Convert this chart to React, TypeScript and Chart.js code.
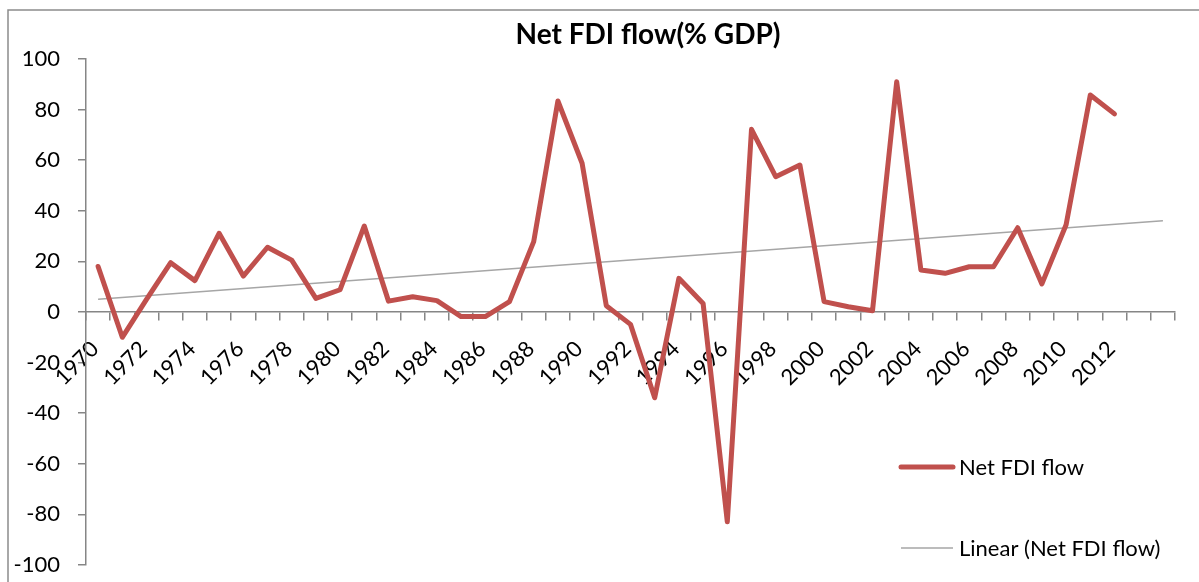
import React, { useEffect, useRef } from 'react';
import { Chart, registerables } from 'chart.js';

Chart.register(...registerables);

// ---- data ----
const years: string[] = [
  '1970', '1971', '1972', '1973', '1974', '1975', '1976', '1977', '1978', '1979',
  '1980', '1981', '1982', '1983', '1984', '1985', '1986', '1987', '1988', '1989',
  '1990', '1991', '1992', '1993', '1994', '1995', '1996', '1997', '1998', '1999',
  '2000', '2001', '2002', '2003', '2004', '2005', '2006', '2007', '2008', '2009',
  '2010', '2011', '2012',
];
// two forward periods of the trendline forecast (unlabelled categories)
const forecastSlots: string[] = ['', ''];

const netFdi: number[] = [
  18, -10, 5, 19.5, 12.4, 31.1, 14.2, 25.6, 20.5, 5.4,
  8.8, 34, 4.3, 6.0, 4.5, -1.8, -1.8, 4.1, 27.8, 83.4,
  58.8, 2.5, -4.9, -33.9, 13.3, 3.4, -82.9, 72.2, 53.5, 58.1,
  4.1, 2.1, 0.5, 91.0, 16.6, 15.3, 17.9, 17.9, 33.3, 11.1,
  34.5, 85.8, 78.3,
];

// Linear trendline end values (first and last category)
const trendEnds: number[] = [5.0, 36.1];

const yTicks = { min: -100, max: 100, step: 20 };

const titleText = 'Net FDI flow(% GDP)';
const seriesLabel = 'Net FDI flow';
const trendLabel = 'Linear (Net FDI flow)';

const FONT = 'Lato, "Open Sans", "DejaVu Sans", sans-serif';
const AXIS_GRAY = '#868686';
const RED = '#C0504D';
const TREND_GRAY = '#A6A6A6';

export default function App() {
  const canvasRef = useRef<HTMLCanvasElement | null>(null);

  useEffect(() => {
    document.body.style.margin = '0';
    let chart: Chart | null = null;
    let cancelled = false;

    const labels = [...years, ...forecastSlots];
    const trendData: (number | null)[] = labels.map(() => null);
    trendData[0] = trendEnds[0];
    trendData[labels.length - 1] = trendEnds[1];

    const borderPlugin = {
      id: 'excelBorder',
      beforeDraw(c: any) {
        const ctx = c.ctx;
        ctx.save();
        ctx.strokeStyle = '#8c8c8c';
        ctx.lineWidth = 1.5;
        ctx.beginPath();
        ctx.moveTo(8, c.height + 5);
        ctx.lineTo(8, 10);
        ctx.lineTo(c.width + 5, 10);
        ctx.stroke();
        ctx.restore();
      },
    };

    const titlePlugin = {
      id: 'excelTitle',
      afterDraw(c: any) {
        const ctx = c.ctx;
        ctx.save();
        ctx.font = `bold 28px ${FONT}`;
        ctx.fillStyle = '#000';
        ctx.textAlign = 'center';
        ctx.textBaseline = 'alphabetic';
        ctx.fillText(titleText, 648, 44);
        ctx.restore();
      },
    };

    const legendPlugin = {
      id: 'excelLegend',
      afterDraw(c: any) {
        const ctx = c.ctx;
        const rows = [467, 548];
        ctx.save();
        c.data.datasets.forEach((ds: any, i: number) => {
          const y = rows[i];
          ctx.strokeStyle = ds.borderColor;
          ctx.lineWidth = ds.borderWidth;
          ctx.lineCap = i === 0 ? 'round' : 'butt';
          ctx.beginPath();
          ctx.moveTo(901, y);
          ctx.lineTo(953, y);
          ctx.stroke();
          ctx.font = `22px ${FONT}`;
          ctx.fillStyle = '#000';
          ctx.textAlign = 'left';
          ctx.textBaseline = 'middle';
          ctx.fillText(ds.label, 959, y + 1);
        });
        ctx.restore();
      },
    };

    const build = () => {
      if (cancelled || !canvasRef.current) return;
      chart = new Chart(canvasRef.current, {
        type: 'line',
        data: {
          labels,
          datasets: [
            {
              label: seriesLabel,
              data: netFdi,
              borderColor: RED,
              backgroundColor: RED,
              borderWidth: 5,
              pointRadius: 0,
              borderJoinStyle: 'round',
              borderCapStyle: 'round',
              tension: 0,
            },
            {
              label: trendLabel,
              data: trendData,
              borderColor: TREND_GRAY,
              backgroundColor: TREND_GRAY,
              borderWidth: 1.5,
              pointRadius: 0,
              spanGaps: true,
              tension: 0,
            },
          ],
        },
        options: {
          responsive: true,
          maintainAspectRatio: false,
          animation: false,
          devicePixelRatio: 1,
          layout: { padding: { top: 59, right: 24, bottom: 17, left: 0 } },
          plugins: {
            legend: { display: false },
            title: { display: false },
            tooltip: { enabled: false },
          },
          scales: {
            x: {
              type: 'category',
              position: { y: 0 } as any,
              offset: true,
              grid: {
                display: true,
                offset: true,
                drawOnChartArea: false,
                drawTicks: true,
                tickLength: 8,
                color: AXIS_GRAY,
                lineWidth: 1.5,
              },
              border: { display: true, color: AXIS_GRAY, width: 1.5 },
              ticks: {
                autoSkip: false,
                minRotation: 45,
                maxRotation: 45,
                padding: 16,
                labelOffset: -3,
                color: '#000',
                font: { family: FONT, size: 22 },
                callback: function (this: any, _v: any, index: number) {
                  return index % 2 === 0 ? labels[index] : '';
                },
              },
            },
            y: {
              type: 'linear',
              min: yTicks.min,
              max: yTicks.max,
              afterFit(scale: any) {
                scale.width = 86;
                scale.paddingTop = 0;
                scale.paddingBottom = 0;
              },
              grid: {
                display: true,
                drawOnChartArea: false,
                drawTicks: true,
                tickLength: 8,
                color: AXIS_GRAY,
                lineWidth: 1.5,
              },
              border: { display: true, color: AXIS_GRAY, width: 1.5 },
              ticks: {
                stepSize: yTicks.step,
                padding: 18,
                color: '#000',
                font: { family: FONT, size: 22 },
              },
            },
          },
        },
        plugins: [borderPlugin, titlePlugin, legendPlugin],
      });
    };

    const fontsReady = (document as any).fonts
      ? Promise.all([
          (document as any).fonts.load(`22px Lato`),
          (document as any).fonts.load(`bold 28px Lato`),
        ]).catch(() => null)
      : Promise.resolve(null);
    fontsReady.then(build);

    return () => {
      cancelled = true;
      if (chart) chart.destroy();
    };
  }, []);

  return (
    <div style={{ position: 'relative', width: 1199, height: 582 }}>
      <canvas ref={canvasRef} />
    </div>
  );
}
